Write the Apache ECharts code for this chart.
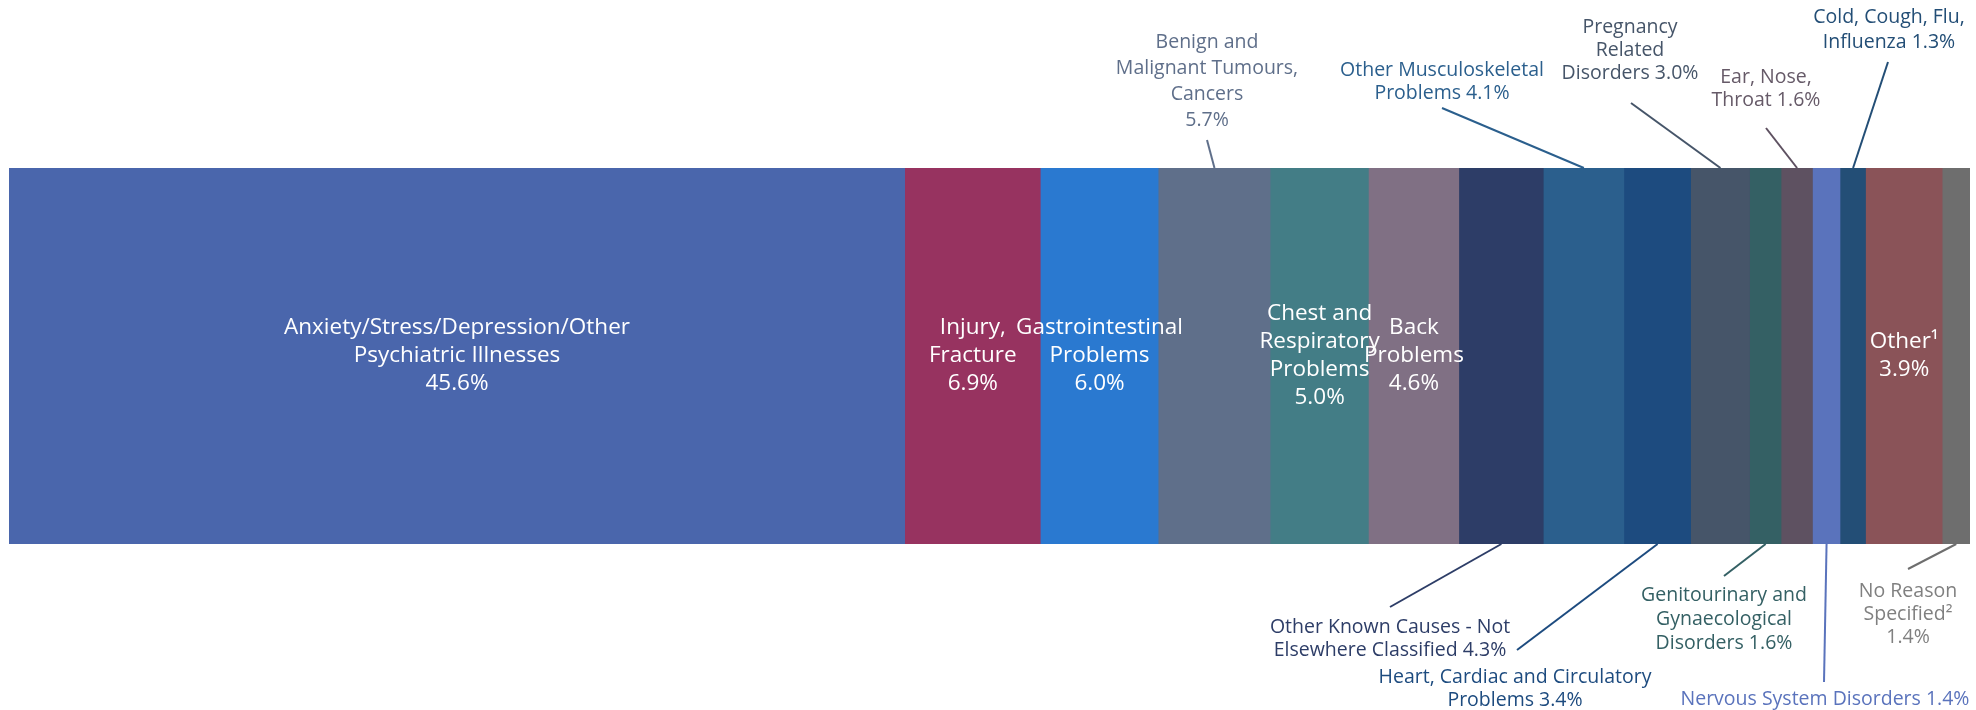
<!DOCTYPE html>
<html>
  <head>
    <meta charset="utf-8" />
    <title>Reasons for absence</title>
    <style>
      html, body { margin: 0; padding: 0; background: #fff; }
      #chart { width: 1976px; height: 710px; }
    </style>
  </head>
  <body>
    <div id="chart"></div>
    <script type="text/javascript" src="https://cdn.jsdelivr.net/npm/echarts@6/dist/echarts.min.js"></script>
    <script type="text/javascript">
      // segment labels, {v} is replaced by the share
      var labels = [
        "Anxiety/Stress/Depression/Other\nPsychiatric Illnesses\n{v}",
        "Injury,\nFracture\n{v}",
        "Gastrointestinal\nProblems\n{v}",
        "Benign and\nMalignant Tumours,\nCancers\n{v}",
        "Chest and\nRespiratory\nProblems\n{v}",
        "Back\nProblems\n{v}",
        "Other Known Causes - Not\nElsewhere Classified {v}",
        "Other Musculoskeletal\nProblems {v}",
        "Heart, Cardiac and Circulatory\nProblems {v}",
        "Pregnancy\nRelated\nDisorders {v}",
        "Genitourinary and\nGynaecological\nDisorders {v}",
        "Ear, Nose,\nThroat {v}",
        "Nervous System Disorders {v}",
        "Cold, Cough, Flu,\nInfluenza {v}",
        "Other\u00b9\n{v}",
        "No Reason\nSpecified\u00b2\n{v}"
      ];
      var values = [45.6, 6.9, 6.0, 5.7, 5.0, 4.6, 4.3, 4.1, 3.4, 3.0, 1.6, 1.6, 1.4, 1.3, 3.9, 1.4];

      var colors = [
        "#4a66ac", "#973360", "#2a79d0", "#5f6f8a", "#437d86", "#807084",
        "#2d3d67", "#2b5f8d", "#1d4b7f", "#465569", "#346064", "#5e5161",
        "#5a73bc", "#234e76", "#8a5358", "#6e6e6e"
      ];
      var textColors = colors.slice();
      textColors[11] = "#665a68";
      textColors[15] = "#808080";

      // which labels sit inside the bar
      var inside = [0, 1, 2, 4, 5, 14];

      // callouts: label centre, leader start near the label, line height
      var callouts = [
        { idx: 3, side: "top", tx: 1207, ty: 81, lx: 1207, ly: 140, lh: 26 },
        { idx: 7, side: "top", tx: 1442, ty: 82, lx: 1442, ly: 108, lh: 23 },
        { idx: 9, side: "top", tx: 1630, ty: 50, lx: 1631, ly: 103, lh: 23 },
        { idx: 11, side: "top", tx: 1766, ty: 89, lx: 1766, ly: 128, lh: 23 },
        { idx: 13, side: "top", tx: 1889, ty: 30, lx: 1888, ly: 62, lh: 25 },
        { idx: 6, side: "bottom", tx: 1390, ty: 639, lx: 1390, ly: 607, lh: 23 },
        { idx: 8, side: "bottom", tx: 1515, ty: 689, lx: 1517, ly: 650, lh: 23 },
        { idx: 10, side: "bottom", tx: 1724, ty: 619, lx: 1724, ly: 576, lh: 24 },
        { idx: 12, side: "bottom", tx: 1825, ty: 699, lx: 1824, ly: 682, lh: 23 },
        { idx: 15, side: "bottom", tx: 1908, ty: 614, lx: 1908, ly: 569, lh: 23 }
      ];

      var fontFamily = "'Open Sans', Lato, sans-serif";

      function labelText(i) {
        return labels[i].replace("{v}", values[i].toFixed(1) + "%");
      }

      var total = 0;
      var mids = [];
      for (var i = 0; i < values.length; i++) {
        mids.push(total + values[i] / 2);
        total += values[i];
      }

      var series = [];
      for (var i = 0; i < values.length; i++) {
        series.push({
          name: labels[i],
          type: "bar",
          stack: "all",
          barWidth: "100%",
          data: [values[i]],
          // hard shadow to the right fills the anti-aliased seam to the next segment
          itemStyle: {
            color: colors[i],
            shadowColor: colors[i],
            shadowBlur: 0,
            shadowOffsetX: i < values.length - 1 ? 1.5 : 0
          },
          label: {
            show: inside.indexOf(i) >= 0,
            position: "inside",
            color: "#fff",
            fontFamily: fontFamily,
            fontSize: 22.5,
            lineHeight: 28,
            formatter: (function (k) {
              return function () { return labelText(k); };
            })(i)
          },
          emphasis: { disabled: true },
          animation: false
        });
      }

      series.push({
        type: "custom",
        coordinateSystem: "cartesian2d",
        animation: false,
        silent: true,
        z: 10,
        data: callouts.map(function (c, k) { return [mids[c.idx], 0, k]; }),
        encode: { x: 0, y: 1 },
        renderItem: function (params, api) {
          var c = callouts[api.value(2)];
          var p = api.coord([api.value(0), 0]);
          var band = api.size([0, 1])[1];
          var edgeY = c.side === "top" ? p[1] - band / 2 : p[1] + band / 2;
          return {
            type: "group",
            children: [
              {
                type: "line",
                shape: { x1: p[0], y1: edgeY, x2: c.lx, y2: c.ly },
                style: { stroke: colors[c.idx], lineWidth: 2 }
              },
              {
                type: "text",
                style: {
                  text: labelText(c.idx),
                  x: c.tx,
                  y: c.ty,
                  align: "center",
                  verticalAlign: "middle",
                  fill: textColors[c.idx],
                  fontFamily: fontFamily,
                  fontSize: 19.5,
                  lineHeight: c.lh
                }
              }
            ]
          };
        }
      });

      var chart = echarts.init(document.getElementById("chart"));
      chart.setOption({
        backgroundColor: "#fff",
        animation: false,
        grid: { left: 9, right: 6, top: 168, bottom: 166 },
        xAxis: { type: "value", min: 0, max: total, show: false },
        yAxis: { type: "category", data: ["all"], show: false },
        series: series
      });
    </script>
  </body>
</html>
